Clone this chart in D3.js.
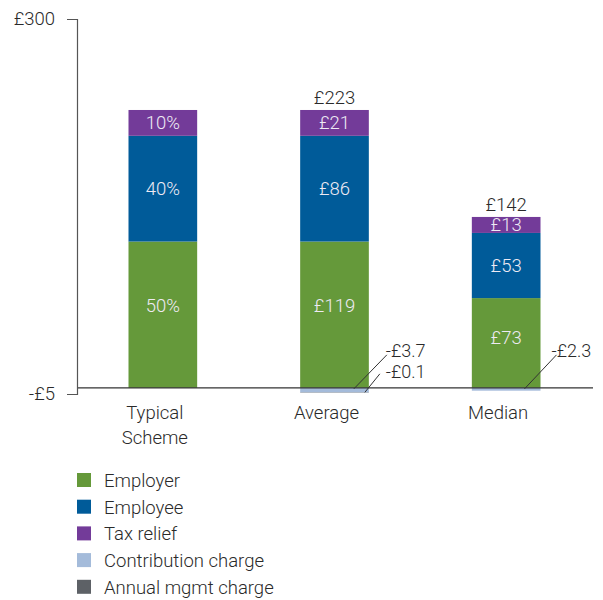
<!DOCTYPE html>
<html><head><meta charset="utf-8">
<script src="https://cdn.jsdelivr.net/npm/d3@7"></script>
<style>body{margin:0;background:#fff} text{font-family:Roboto, "Liberation Sans", sans-serif;font-weight:300}</style>
</head><body><svg id="c" width="603" height="600"></svg>
<script>
const categories = ["Typical Scheme", "Average", "Median"];
const employer = [119, 119, 73];
const employee = [86, 86, 53];
const taxRelief = [21, 21, 13];
const contributionCharge = [0, -3.7, -2.3];
const mgmtCharge = [0, -0.1, 0];
const totalLabels = ["", "£223", "£142"];
const typicalShareLabels = ["50%", "40%", "10%"];
const seriesNames = ["Employer", "Employee", "Tax relief", "Contribution charge", "Annual mgmt charge"];
const yTicks = [-5, 300];
const yTickLabels = ["-£5", "£300"];

const FS = "18.5px";
const colors = ["#65993a", "#005b99", "#733b99", "#a4bbda", "#5d6166"];
const svg = d3.select("#c");
const x = d3.scaleBand().domain(categories).range([77, 592]).paddingInner(0.6).paddingOuter(0.3);
const y = d3.scaleLinear().domain([-5, 300]).range([394, 19]);
const bw = x.bandwidth();

// positive stacks
const posSeries = [employer, employee, taxRelief];
categories.forEach((c, i) => {
  let base = 0;
  posSeries.forEach((s, k) => {
    const v = s[i];
    const y0 = y(base), y1 = y(base + v);
    svg.append("rect").attr("x", x(c)).attr("y", y1).attr("width", bw).attr("height", y0 - y1).attr("fill", colors[k]);
    const frac = k === 0 ? 0.44 : 0.5;
    const lbl = i === 0 ? typicalShareLabels[k] : "£" + v;
    svg.append("text").attr("x", x(c) + bw / 2).attr("y", y1 + (y0 - y1) * frac).attr("dy", "0.35em")
      .attr("text-anchor", "middle").attr("fill", "#eeeaf4").style("font-size", FS).text(lbl);
    base += v;
  });
  if (totalLabels[i]) {
    svg.append("text").attr("x", x(c) + bw / 2).attr("y", y(base) - 6).attr("text-anchor", "middle")
      .attr("fill", "#2a2a2a").style("font-size", FS).text(totalLabels[i]);
  }
  // negative stacks
  let nb = 0;
  [contributionCharge, mgmtCharge].forEach((s, k) => {
    const v = s[i];
    if (!v) return;
    const y0 = y(nb), y1 = y(nb + v);
    svg.append("rect").attr("x", x(c)).attr("y", y0).attr("width", bw).attr("height", Math.max(y1 - y0, 0.3)).attr("fill", colors[3 + k]);
    nb += v;
  });
});

// zero line
svg.append("line").attr("x1", 77).attr("x2", 593).attr("y1", y(0)).attr("y2", y(0)).attr("stroke", "#333").attr("stroke-width", 1.2);

// leader labels for charges
const right = c => x(c) + bw;
const z = y(0);
function leader(x1, y1, x2, y2, tx, ty, t) {
  svg.append("line").attr("x1", x1).attr("y1", y1).attr("x2", x2).attr("y2", y2).attr("stroke", "#333").attr("stroke-width", 1);
  svg.append("text").attr("x", tx).attr("y", ty).attr("fill", "#2a2a2a").style("font-size", "18px").text(t);
}
const ca = categories[1], cm = categories[2];
leader(right(ca) - 15, z + 1, right(ca) + 18, z - 33, right(ca) + 17, z - 31, "-£" + Math.abs(contributionCharge[1]));
leader(right(ca) - 4, z + 4.5, right(ca) + 11, z - 14, right(ca) + 17, z - 10, "-£" + Math.abs(mgmtCharge[1]));
leader(right(cm) - 16, z + 1, right(cm) + 16, z - 33, right(cm) + 11, z - 31, "-£" + Math.abs(contributionCharge[2]));

// y axis
const ax = svg.append("g").attr("transform", "translate(77,0)")
  .call(d3.axisLeft(y).tickValues(yTicks).tickSize(10).tickSizeOuter(10).tickPadding(12)
    .tickFormat((d, i) => yTickLabels[i]));
ax.select(".domain").attr("stroke", "#555").attr("stroke-width", 1.2);
ax.selectAll(".tick line").attr("stroke", "#555");
ax.selectAll("text").style("font-size", FS).attr("fill", "#2a2a2a").style("font-family", "Roboto").style("font-weight", 300);

// x labels
categories.forEach(c => {
  const t = svg.append("text").attr("x", x(c) + bw / 2 - 8).attr("y", 419).attr("text-anchor", "middle")
    .attr("fill", "#2a2a2a").style("font-size", FS);
  c.split(" ").forEach((w, j) => t.append("tspan").attr("x", x(c) + bw / 2 - 8).attr("dy", j ? 25 : 0).text(w));
});

// legend
seriesNames.forEach((n, i) => {
  const yy = 473 + i * 26.7;
  svg.append("rect").attr("x", 77).attr("y", yy).attr("width", 14).attr("height", 14).attr("fill", colors[i]);
  svg.append("text").attr("x", 104).attr("y", yy + 14).attr("fill", "#2a2a2a").style("font-size", FS).text(n);
});
</script></body></html>
